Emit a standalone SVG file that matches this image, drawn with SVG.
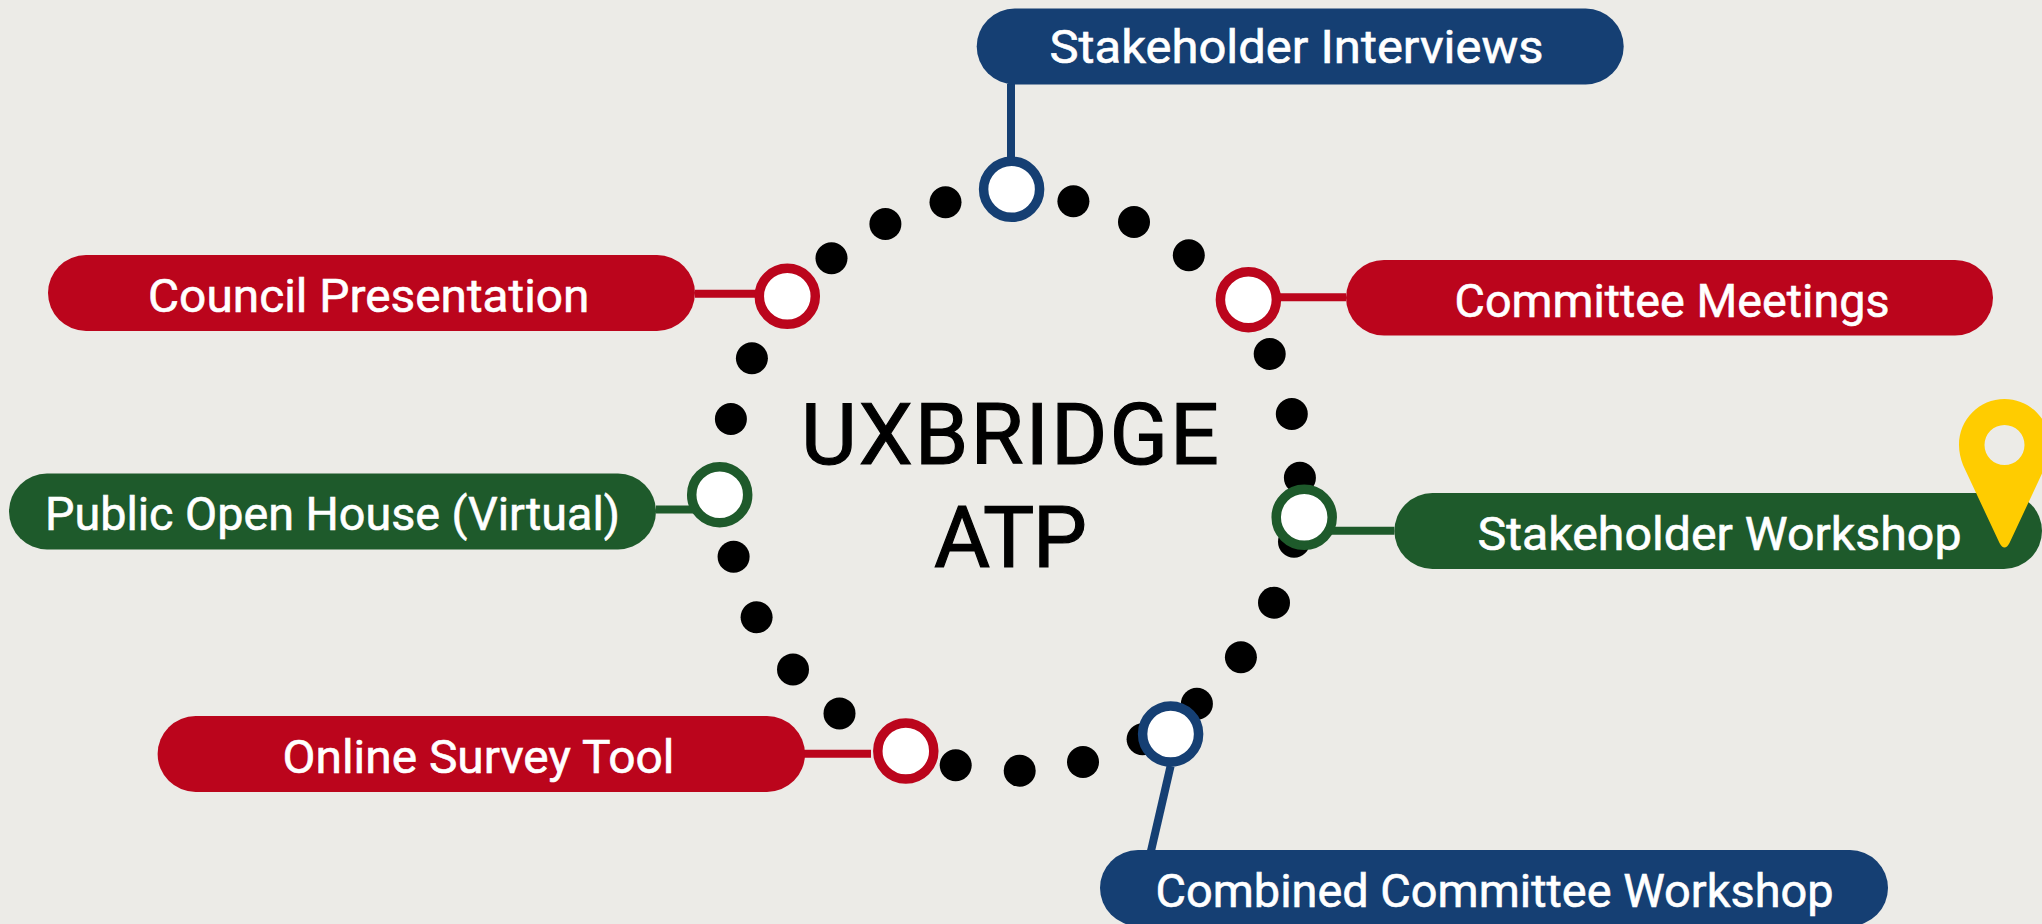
<svg xmlns="http://www.w3.org/2000/svg" width="2042" height="924" viewBox="0 0 2042 924">
<style>
.pill{stroke:none}
.blue{fill:#153f73}.red{fill:#bb051c}.green{fill:#1e5a2b}
.lb{font-family:Roboto,"Liberation Sans",sans-serif;font-size:47px;font-weight:400;fill:#fff;stroke:#fff;stroke-width:.6}
.title{font-family:Roboto,"Liberation Sans",sans-serif;font-size:86px;font-weight:400;fill:#000;stroke:#000;stroke-width:1.2}
.ring{fill:#fff;stroke-width:9.5}
.ln{fill:none;stroke-width:8}
.sb{stroke:#153f73}.sr{stroke:#bb051c}.sg{stroke:#1e5a2b}
</style>
<rect width="2042" height="924" fill="#ecebe7"/>
<g id="dots" fill="#000">
<circle cx="831.5" cy="258.3" r="16"/><circle cx="885.4" cy="224" r="16"/><circle cx="945.5" cy="202.3" r="16"/><circle cx="1073.4" cy="201.3" r="16"/><circle cx="1134" cy="222" r="16"/><circle cx="1188.8" cy="255.3" r="16"/><circle cx="1269.7" cy="354" r="16"/><circle cx="1291.8" cy="414" r="16"/><circle cx="1299.9" cy="477.7" r="16"/><circle cx="1294" cy="541.7" r="16"/><circle cx="1274" cy="602.7" r="16"/><circle cx="1240.9" cy="657.3" r="16"/><circle cx="1196.9" cy="703.7" r="16"/><circle cx="1142.6" cy="739.3" r="16"/><circle cx="1083" cy="762" r="16"/><circle cx="1019.7" cy="770.7" r="16"/><circle cx="955.7" cy="765.3" r="16"/><circle cx="839.5" cy="713.4" r="16"/><circle cx="793" cy="669.4" r="16"/><circle cx="756.6" cy="617.3" r="16"/><circle cx="733.6" cy="556.7" r="16"/><circle cx="730.9" cy="419" r="16"/><circle cx="751.9" cy="358.3" r="16"/>
</g>
<g id="connectors">
<line class="ln sb" x1="1011" y1="84" x2="1011" y2="160"/>
<line class="ln sr" x1="1277" y1="297.3" x2="1346" y2="297.3"/>
<line class="ln sr" x1="695" y1="293.7" x2="757" y2="293.7"/>
<line class="ln sg" x1="656" y1="509.5" x2="695" y2="509.5"/>
<line class="ln sg" x1="1330" y1="530.8" x2="1394.4" y2="530.8"/>
<line class="ln sr" x1="800" y1="753.8" x2="871" y2="753.8"/>
<line class="ln sb" x1="1170.6" y1="766" x2="1151" y2="851"/>
</g>
<g id="center-title">
<text class="title" x="801" y="464.3" textLength="418" lengthAdjust="spacing">UXBRIDGE</text>
<text class="title" x="934" y="566.7" textLength="153" lengthAdjust="spacing">ATP</text>
</g>
<g id="stakeholder-interviews">
<rect class="pill blue" x="976.7" y="8.5" width="647" height="76" rx="38"/>
<text class="lb" x="1049.5" y="62.7" textLength="494" lengthAdjust="spacingAndGlyphs">Stakeholder Interviews</text>
<circle class="ring sb" cx="1011.6" cy="189.3" r="28"/>
</g>
<g id="committee-meetings">
<rect class="pill red" x="1346" y="260" width="647" height="75.5" rx="38"/>
<text class="lb" x="1454.5" y="316.7" textLength="435" lengthAdjust="spacingAndGlyphs">Committee Meetings</text>
<circle class="ring sr" cx="1248.4" cy="299.7" r="28"/>
</g>
<g id="council-presentation">
<rect class="pill red" x="48" y="255" width="647" height="76" rx="38"/>
<text class="lb" x="148" y="311.7" textLength="441.5" lengthAdjust="spacingAndGlyphs">Council Presentation</text>
<circle class="ring sr" cx="787.3" cy="296.3" r="28"/>
</g>
<g id="public-open-house">
<rect class="pill green" x="9" y="473.5" width="647" height="76" rx="38"/>
<text class="lb" x="45" y="530" textLength="575" lengthAdjust="spacingAndGlyphs">Public Open House (Virtual)</text>
<circle class="ring sg" cx="719.7" cy="494.7" r="28"/>
</g>
<g id="stakeholder-workshop">
<rect class="pill green" x="1394.4" y="493" width="647.6" height="76" rx="38"/>
<text class="lb" x="1477.5" y="550" textLength="484" lengthAdjust="spacingAndGlyphs">Stakeholder Workshop</text>
<circle class="ring sg" cx="1304.2" cy="517.3" r="28"/>
<path fill="#ffcc00" fill-rule="evenodd" d="M2004.5 399C1979.3 399 1959 419.5 1959 445C1959 452 1960.5 458 1963 465L1999.5 543Q2004.5 552 2009.5 543L2046 465C2048.5 458 2050 452 2050 445C2050 419.5 2029.7 399 2004.5 399ZM2004.5 425A20 20 0 1 1 2004.5 465A20 20 0 1 1 2004.5 425Z"/>
</g>
<g id="online-survey-tool">
<rect class="pill red" x="157.6" y="716" width="647.4" height="76" rx="38"/>
<text class="lb" x="282.5" y="772.5" textLength="392" lengthAdjust="spacingAndGlyphs">Online Survey Tool</text>
<circle class="ring sr" cx="905.8" cy="751" r="28"/>
</g>
<g id="combined-committee-workshop">
<rect class="pill blue" x="1100" y="850" width="788" height="76" rx="38"/>
<text class="lb" x="1155.5" y="906.7" textLength="678" lengthAdjust="spacingAndGlyphs">Combined Committee Workshop</text>
<circle class="ring sb" cx="1170.6" cy="734" r="28"/>
</g>
</svg>
